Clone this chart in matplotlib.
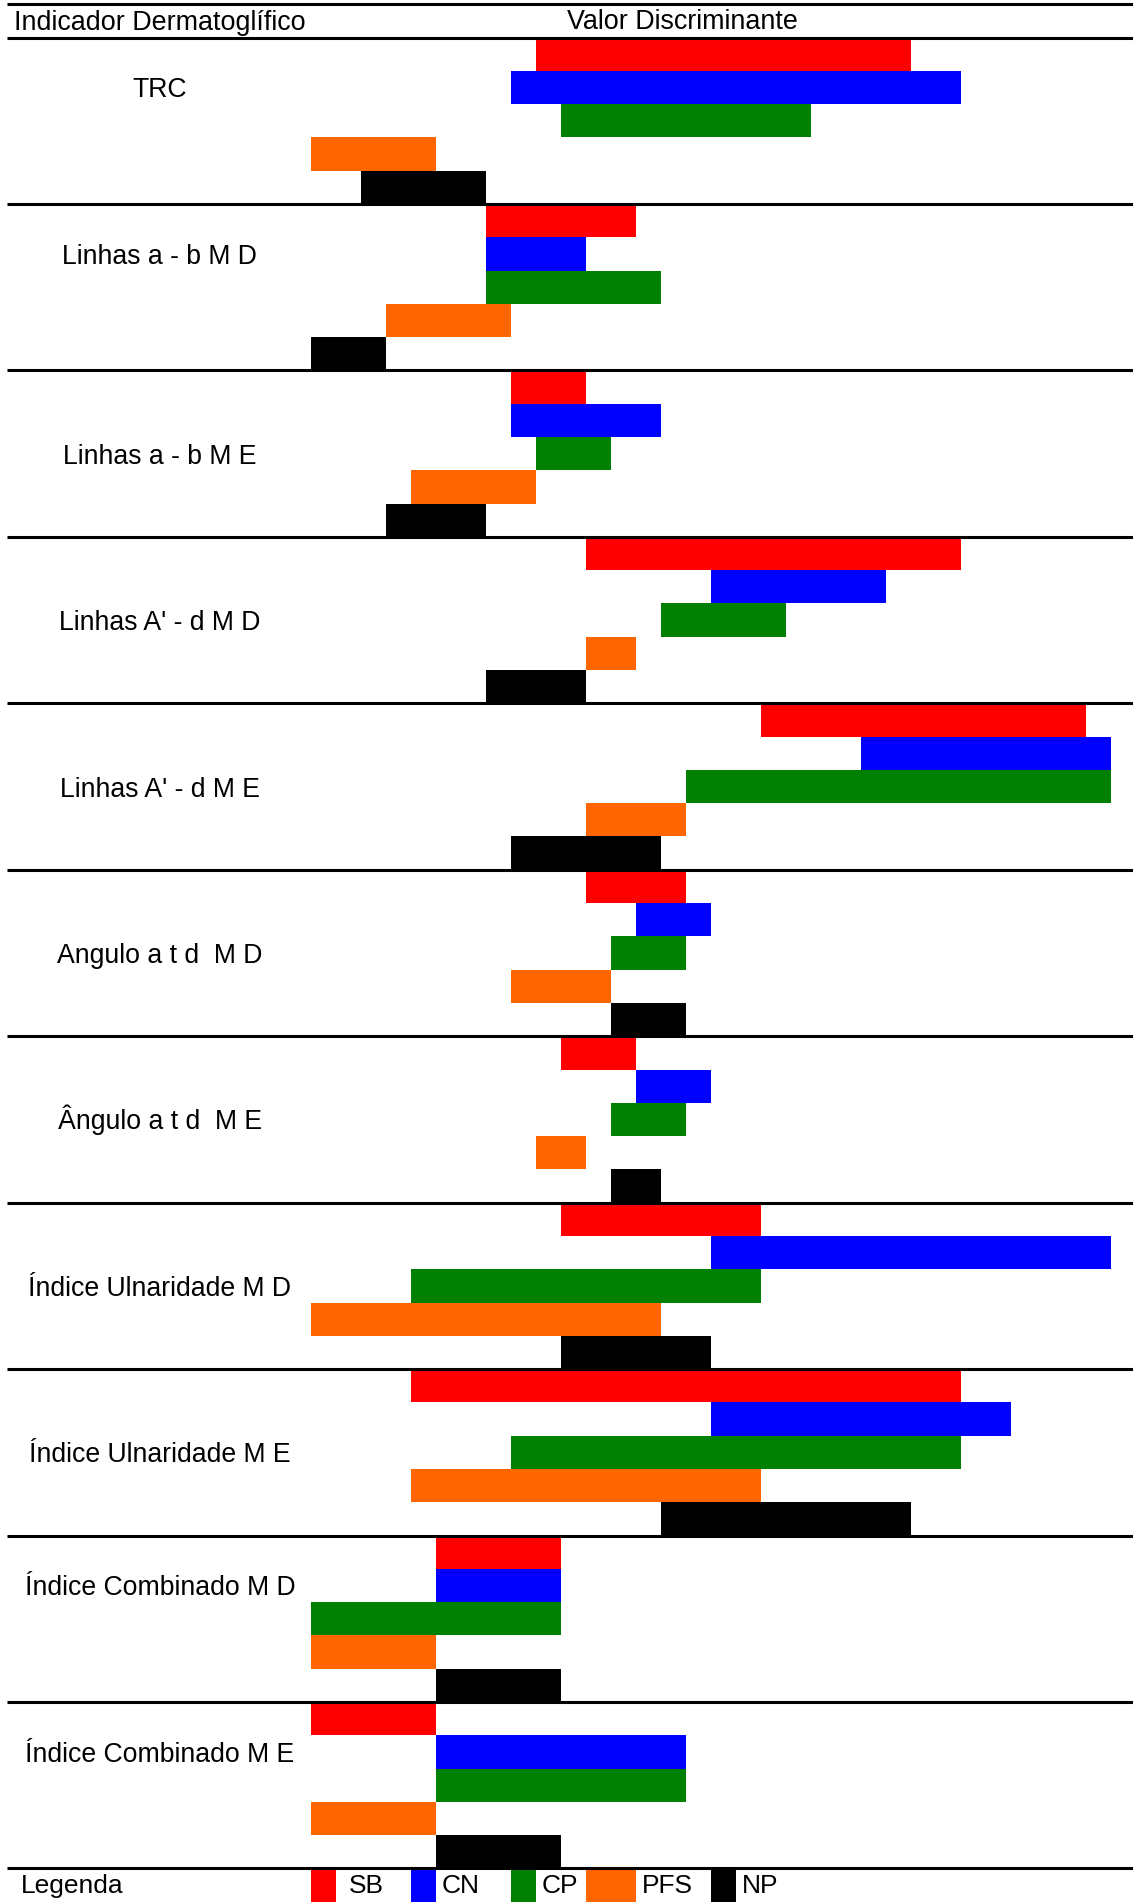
#%%
import numpy as np
from matplotlib import pyplot as plt

plt.rcParams['font.family'] = ['Liberation Sans', 'DejaVu Sans']

#%%
Indicadores = ["TRC", "Linhas a - b M D", "Linhas a - b M E", "Linhas A' - d M D",
               "Linhas A' - d M E", "Angulo a t d  M D", "Ângulo a t d  M E",
               "Índice Ulnaridade M D", "Índice Ulnaridade M E",
               "Índice Combinado M D", "Índice Combinado M E"]

Grupos = ["SB", "CN", "CP", "PFS", "NP"]
Cores = ["#FF0000", "#0000FF", "#008000", "#FF6600", "#000000"]

# inicio / fim de cada faixa (valor discriminante)
SB_ini  = [9, 7, 8, 11, 18, 11, 10, 10, 4, 5, 0]
SB_fim  = [24, 13, 11, 26, 31, 15, 13, 18, 26, 10, 5]
CN_ini  = [8, 7, 8, 16, 22, 13, 13, 16, 16, 5, 5]
CN_fim  = [26, 11, 14, 23, 32, 16, 16, 32, 28, 10, 15]
CP_ini  = [10, 7, 9, 14, 15, 12, 12, 4, 8, 0, 5]
CP_fim  = [20, 14, 12, 19, 32, 15, 15, 18, 26, 10, 15]
PFS_ini = [0, 3, 4, 11, 11, 8, 9, 0, 4, 0, 0]
PFS_fim = [5, 8, 9, 13, 15, 12, 11, 14, 18, 5, 5]
NP_ini  = [2, 0, 3, 7, 8, 12, 12, 10, 14, 5, 5]
NP_fim  = [7, 3, 7, 11, 14, 15, 14, 16, 24, 10, 10]

Inicio = [SB_ini, CN_ini, CP_ini, PFS_ini, NP_ini]
Fim = [SB_fim, CN_fim, CP_fim, PFS_fim, NP_fim]

# legenda: faixa de cada quadrado de cor e posicao do texto
Leg_ini = [0, 4, 8, 11, 16]
Leg_fim = [1, 5, 9, 13, 17]
Leg_txt = [1.54, 5.24, 9.24, 13.26, 17.24]

# rotulos na parte de cima do bloco ou centrados
Rot_linha = [1.8, 1.8, 2.8, 2.8, 2.8, 2.8, 2.8, 2.8, 2.8, 1.8, 1.8]

#%%
fig = plt.figure(figsize=(11.33, 19.02), dpi=100)
ax = fig.add_axes([0, 0, 1, 1])
ax.set_xlim(-12.425, 32.884)
ax.set_ylim(56.007, -1.1265)
ax.axis('off')

n = len(Grupos)
for g in range(n):
    y = np.arange(len(Indicadores)) * n + g + 0.5
    ini = np.array(Inicio[g])
    fim = np.array(Fim[g])
    ax.barh(y, fim - ini, left=ini, height=1.0, color=Cores[g], linewidth=0)

for i in range(len(Indicadores)):
    ax.text(-6.03, i * n + Rot_linha[i], Indicadores[i], ha='center', va='baseline',
            fontsize=19.2)

# linhas de separacao
Linhas = [-1] + list(range(0, len(Indicadores) * n + 1, n))
ax.hlines(Linhas, -12.145, 32.884, color='black', linewidth=2.2)

# cabecalho
ax.text(-11.865, -0.22, "Indicador Dermatoglífico", ha='left', va='baseline', fontsize=19.4)
ax.text(10.23, -0.25, "Valor Discriminante", ha='left', va='baseline', fontsize=19.4)

#%%
yl = len(Indicadores) * n
ax.text(-11.6, yl + 0.74, "Legenda", ha='left', va='baseline', fontsize=19)
for g in range(n):
    ax.barh(yl + 0.6, Leg_fim[g] - Leg_ini[g], left=Leg_ini[g], height=1.2,
            color=Cores[g], linewidth=0, zorder=1)
    ax.text(Leg_txt[g], yl + 0.74, Grupos[g], ha='left', va='baseline', fontsize=19)

fig.savefig('out.png', dpi=100)
